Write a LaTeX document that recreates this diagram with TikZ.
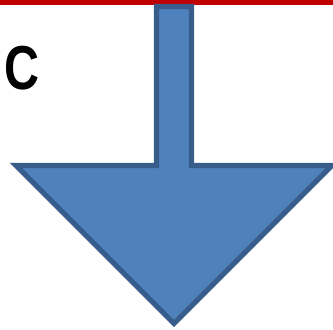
\documentclass[tikz,border=0pt]{standalone}
\usepackage{fontspec}
\setmainfont{Liberation Sans}
\usepackage{xcolor}
\definecolor{arrowfill}{HTML}{4F81BD}
\definecolor{arrowline}{HTML}{385D8A}
\definecolor{topred}{HTML}{C00000}
\begin{document}
\begin{tikzpicture}[x=0.03cm,y=-0.03cm]
\useasboundingbox(0,0)rectangle(333,329);
\clip(0,0)rectangle(333,329);
\fill[topred](0,0)rectangle(333,4.5);
\draw[line width=4.4pt,arrowline,fill=arrowfill,line join=miter](156.5,6.5)--(191.5,6.5)--(191.5,165.5)--(332,165.5)--(174,323.5)--(16,165.5)--(156.5,165.5)--cycle;
\node[anchor=base west,inner sep=0pt,xscale=0.78,font=\fontsize{53}{64}\selectfont\bfseries](letterC) at (4.5,89){C};
\end{tikzpicture}
\end{document}
